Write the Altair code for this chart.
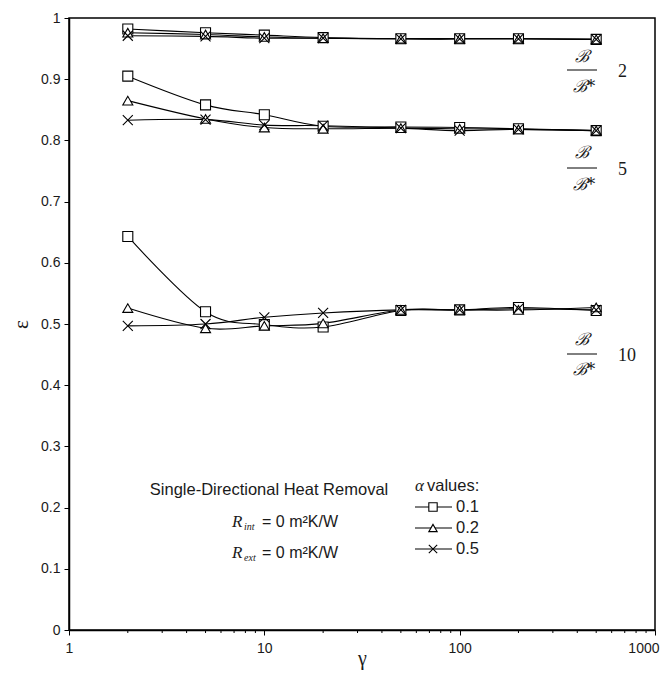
import altair as alt
import pandas as pd

# ---- data ----
gamma = [2, 5, 10, 20, 50, 100, 200, 500]
alphas = ["0.1", "0.2", "0.5"]
ratios = ["2", "5", "10"]

# B/B* = 2
r2_a01 = [0.982, 0.976, 0.972, 0.968, 0.966, 0.966, 0.966, 0.965]
r2_a02 = [0.976, 0.973, 0.969, 0.967, 0.966, 0.966, 0.966, 0.965]
r2_a05 = [0.971, 0.970, 0.967, 0.967, 0.966, 0.966, 0.966, 0.965]
# B/B* = 5
r5_a01 = [0.905, 0.858, 0.842, 0.823, 0.822, 0.821, 0.819, 0.816]
r5_a02 = [0.865, 0.835, 0.821, 0.819, 0.820, 0.819, 0.818, 0.816]
r5_a05 = [0.833, 0.834, 0.825, 0.824, 0.820, 0.816, 0.818, 0.816]
# B/B* = 10
r10_a01 = [0.643, 0.520, 0.499, 0.495, 0.522, 0.523, 0.527, 0.522]
r10_a02 = [0.526, 0.493, 0.497, 0.501, 0.523, 0.523, 0.523, 0.527]
r10_a05 = [0.497, 0.500, 0.511, 0.518, 0.523, 0.523, 0.525, 0.523]

series = {
    ("2", "0.1"): r2_a01, ("2", "0.2"): r2_a02, ("2", "0.5"): r2_a05,
    ("5", "0.1"): r5_a01, ("5", "0.2"): r5_a02, ("5", "0.5"): r5_a05,
    ("10", "0.1"): r10_a01, ("10", "0.2"): r10_a02, ("10", "0.5"): r10_a05,
}

x_ticks = [1, 10, 100, 1000]
minor_ticks = [2, 3, 4, 5, 6, 7, 8, 9, 20, 30, 40, 50, 60, 70, 80, 90,
               200, 300, 400, 500, 600, 700, 800, 900]
y_ticks = [0, 0.1, 0.2, 0.3, 0.4, 0.5, 0.6, 0.7, 0.8, 0.9, 1.0]

rows = []
for (ratio, a), vals in series.items():
    for g, v in zip(gamma, vals):
        rows.append({"gamma": g, "eps": v, "alpha": a, "ratio": ratio,
                     "key": ratio + "_" + a})
df = pd.DataFrame(rows)

W, H = 586, 612
XPATH = "M-1,-1L1,1M1,-1L-1,1"
shape_range = ["square", "triangle-up", XPATH]

xscale = alt.Scale(type="log", domain=[1, 1000])
yscale = alt.Scale(domain=[0, 1])

base = alt.Chart(df)

lines = base.mark_line(color="black", strokeWidth=1.1, interpolate="cardinal").encode(
    x=alt.X("gamma:Q", scale=xscale,
            axis=alt.Axis(values=x_ticks, format="d", title="γ", grid=False,
                          tickSize=5, labelPadding=6, labelFlush=True,
                          labelFlushOffset=4,
                          titleY=34, titleBaseline="alphabetic")),
    y=alt.Y("eps:Q", scale=yscale,
            axis=alt.Axis(values=y_ticks, format="~g", title="ε", grid=False,
                          tickSize=5, labelPadding=4, titlePadding=9,
                          titleFontSize=21)),
    detail="key:N",
)

points = base.mark_point(filled=True, fill="white", stroke="black",
                         strokeWidth=1.1, size=100, opacity=1).encode(
    x=alt.X("gamma:Q", scale=xscale),
    y=alt.Y("eps:Q", scale=yscale),
    shape=alt.Shape("alpha:N", scale=alt.Scale(domain=alphas, range=shape_range),
                    legend=None),
)

minor = alt.Chart(pd.DataFrame({"m": minor_ticks})).mark_rule(
    color="black", strokeWidth=1).encode(
    x=alt.X("m:Q", scale=xscale),
    y=alt.value(H), y2=alt.value(H + 3),
)


def txt(s, x, y, size=16, font="Liberation Sans", style="normal",
        align="left", baseline="middle"):
    return alt.Chart(pd.DataFrame({"a": [0]})).mark_text(
        text=s, font=font, fontSize=size, fontStyle=style, align=align,
        baseline=baseline, color="#1a1a1a").encode(
        x=alt.value(x), y=alt.value(y))


def hrule(x1, x2, y, w=1):
    return alt.Chart(pd.DataFrame({"a": [0]})).mark_rule(
        color="black", strokeWidth=w).encode(
        x=alt.value(x1), x2=alt.value(x2), y=alt.value(y))


ann = []
# B/B* fraction labels
frac_pos = [("2", 39, 52, 69), ("5", 135, 150, 167), ("10", 322, 336, 352)]
fx = 513
for lab, yb, yr, ys in frac_pos:
    ann.append(txt("ℬ", fx, yb, size=17, font="DejaVu Serif", style="italic",
                   align="center"))
    ann.append(hrule(fx - 15, fx + 15, yr))
    ann.append(txt("ℬ*", fx + 2, ys, size=17, font="DejaVu Serif", style="italic",
                   align="center"))
    ann.append(txt(lab, fx + 36, yr + 2, size=18, font="Liberation Serif",
                   align="left"))

# text block
ann.append(txt("Single-Directional Heat Removal", 200, 472, size=16.5, align="center"))
for yy, sub in [(504, "int"), (535, "ext")]:
    ann.append(txt("R", 163, yy, size=17, font="Liberation Serif", style="italic"))
    ann.append(txt(sub, 175, yy + 5, size=10, font="Liberation Serif", style="italic"))
    ann.append(txt("= 0 m²K/W", 193, yy, size=16))

# custom alpha legend
ann.append(txt("α", 346, 468, size=17, font="Liberation Serif", style="italic"))
ann.append(txt("values:", 358, 468, size=16.5))
for a, yy, shp in zip(alphas, [489, 510, 531], shape_range):
    ann.append(hrule(346, 383, yy, w=1.1))
    ann.append(alt.Chart(pd.DataFrame({"a": [0]})).mark_point(
        shape=shp, filled=True, fill="white", stroke="black", strokeWidth=1.1,
        size=70, opacity=1).encode(x=alt.value(364), y=alt.value(yy)))
    ann.append(txt(a, 387, yy, size=16.5))

chart = alt.layer(minor, lines, points, *ann).properties(
    width=W, height=H,
    autosize=alt.AutoSizeParams(type="none"),
    padding={"left": 61, "top": 10, "right": 8, "bottom": 40},
).configure_view(
    stroke="black", strokeWidth=1.5
).configure_axis(
    domainColor="black", domainWidth=1.5, tickColor="black", tickWidth=1,
    labelFont="Liberation Sans", labelFontSize=14, labelColor="#1a1a1a",
    titleFont="Liberation Serif", titleFontSize=20, titleFontWeight="normal",
    titleColor="#1a1a1a",
)

chart.save("out.html", embed_options={"renderer": "svg", "actions": False})
